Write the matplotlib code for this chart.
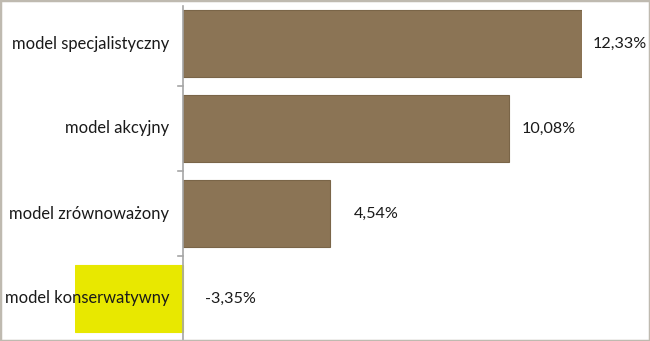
import matplotlib.pyplot as plt
from matplotlib.patches import Rectangle

categories = ['model specjalistyczny', 'model akcyjny', 'model zrównoważony', 'model konserwatywny']
returns = [12.33, 10.08, 4.54, -3.35]
value_labels = ['12,33%', '10,08%', '4,54%', '-3,35%']
label_pad = [11, 12, 24, 0]  # px gap between bar end / axis and the value label

BROWN = '#8B7455'
YELLOW = '#E8E800'

plt.rcParams['font.family'] = ['Lato', 'DejaVu Sans']

W, H, DPI = 650, 341, 100
fig = plt.figure(figsize=(W / DPI, H / DPI), dpi=DPI)

# axes in pixel terms: x from 75 (=-3.35) to 582 (=12.33), y bands 1..341
x_lo_px, x_hi_px = 75, 582
ax = fig.add_axes([x_lo_px / W, 0, (x_hi_px - x_lo_px) / W, 340 / H])
ax.set_xlim(-3.35, 12.33)
ax.set_ylim(len(categories) - 0.5, -0.5)

ypos = list(range(len(categories)))
colors = [BROWN if v >= 0 else YELLOW for v in returns]
edges = ['#7A6548' if v >= 0 else YELLOW for v in returns]
ax.barh(ypos, returns, height=0.78, color=colors, edgecolor=edges, linewidth=0.8, zorder=2)

for s in ['top', 'right', 'bottom', 'left']:
    ax.spines[s].set_visible(False)
ax.axvline(0, ymin=0, ymax=(340 - 5) / 340, color='#A6A6A6', lw=1.2, zorder=3)

ax.set_xticks([])
ax.set_yticks([])
for b in [0.5, 1.5, 2.5]:
    ax.plot([-0.15, 0], [b, b], color='#A6A6A6', lw=1.2, clip_on=False, zorder=3)

for y, v, lab, pad in zip(ypos, returns, value_labels, label_pad):
    x0 = max(v, 0)
    ax.annotate(lab, (x0, y), xytext=(pad if v >= 0 else 22, 0), textcoords='offset pixels',
                ha='left', va='center', fontsize=11.6, color='#1a1a1a')

for y, c in zip(ypos, categories):
    ax.annotate(c, (0, y), xytext=(-14, 0), textcoords='offset pixels',
                ha='right', va='center', fontsize=11.9, color='#1a1a1a', zorder=4)

fig.patches.append(Rectangle((0, 0), 1, 1, transform=fig.transFigure, fill=False,
                             edgecolor='#BFBAB0', lw=2.5))

fig.savefig('out.png', dpi=DPI)
